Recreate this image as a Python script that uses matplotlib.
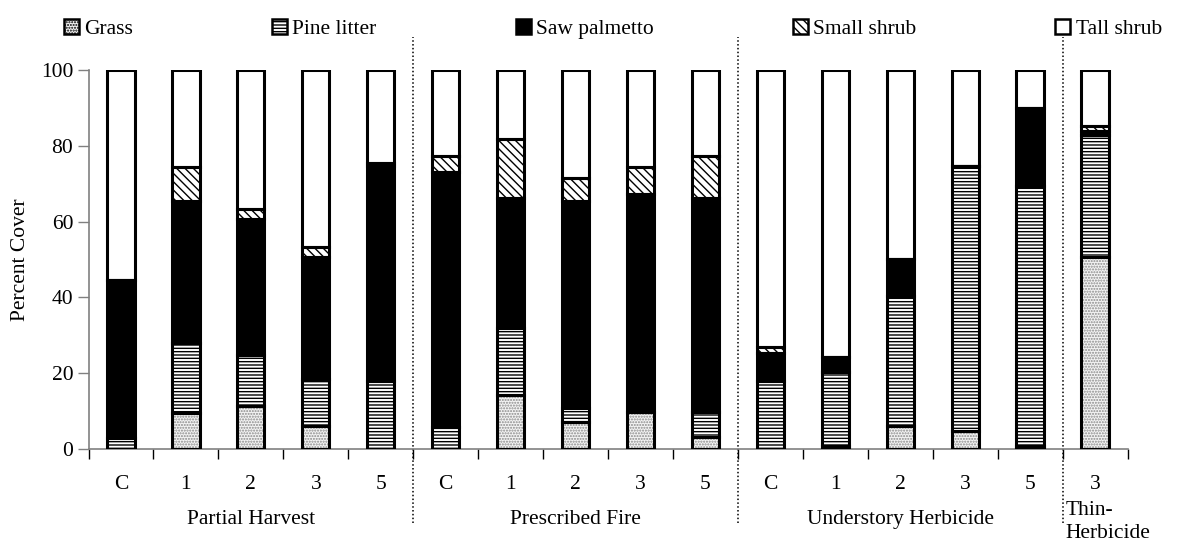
import matplotlib
matplotlib.use('Agg')
import matplotlib.pyplot as plt
from matplotlib.patches import Patch
import numpy as np

plt.rcParams['font.family'] = ['Liberation Serif', 'DejaVu Serif']
plt.rcParams['hatch.linewidth'] = 1.0

# ---- data (percent cover) ----
treat_labels = ['C', '1', '2', '3', '5',
                'C', '1', '2', '3', '5',
                'C', '1', '2', '3', '5',
                '3']
groups = ['Partial Harvest', 'Prescribed Fire', 'Understory Herbicide', 'Thin-\nHerbicide']
group_sizes = [5, 5, 5, 1]

grass = [0, 9.4, 11.3, 6.0, 0, 0, 14.3, 7.0, 9.7, 3.1, 0, 0.8, 6.2, 4.7, 0.8, 50.7]
pine_litter = [3.0, 18.5, 13.6, 12.5, 17.9, 5.7, 17.6, 3.7, 0, 6.6, 17.9, 19.5, 34.1, 69.9, 68.5, 32.1]
saw_palmetto = [41.7, 37.6, 35.9, 32.2, 56.7, 67.4, 34.4, 54.7, 57.7, 56.6, 7.4, 4.1, 9.9, 0, 20.6, 1.2]
small_shrub = [0, 8.9, 2.5, 2.6, 0.9, 4.3, 15.4, 6.0, 7.0, 11.0, 1.7, 0, 0, 0, 0, 1.2]
tall_shrub = [55.3, 25.6, 36.7, 46.7, 24.5, 22.6, 18.3, 28.6, 25.6, 22.7, 73.0, 75.6, 49.8, 25.4, 10.1, 14.8]

series = [
    ('Grass', grass, dict(facecolor='#f4f4f4', hatch='......', hcol='#8a8a8a')),
    ('Pine litter', pine_litter, dict(facecolor='white', hatch='-----', hcol='black')),
    ('Saw palmetto', saw_palmetto, dict(facecolor='black', hatch=None, hcol='black')),
    ('Small shrub', small_shrub, dict(facecolor='white', hatch='\\\\\\\\', hcol='black')),
    ('Tall shrub', tall_shrub, dict(facecolor='white', hatch=None, hcol='white')),
]

FS = 15.5

fig = plt.figure(figsize=(11.9, 5.46), dpi=100)
fig.patch.set_facecolor('white')
ax = fig.add_axes([88.5 / 1190, 1 - 449 / 546, 1039 / 1190, 379 / 546])

x = np.arange(len(treat_labels))
width = 0.42
bottom = np.zeros(len(x))
handles = []
for name, vals, st in series:
    vals = np.array(vals, dtype=float)
    ax.bar(x, vals, width, bottom=bottom, color=st['facecolor'],
           edgecolor=st['hcol'], hatch=st['hatch'], linewidth=0, zorder=2)
    ax.bar(x, vals, width, bottom=bottom, fill=False,
           edgecolor='black', linewidth=2.2, zorder=3)
    handles.append(Patch(facecolor=st['facecolor'], edgecolor='black',
                         hatch=st['hatch'], linewidth=1.8, label=name))
    bottom += vals

ax.set_xlim(-0.5, len(x) - 0.5)
ax.set_ylim(0, 100)
ax.set_yticks([0, 20, 40, 60, 80, 100])
ax.tick_params(axis='y', direction='out', length=8, width=1, color='#808080',
               labelsize=FS, pad=3)
ax.set_ylabel('Percent Cover', fontsize=FS, labelpad=8)

ax.set_xticks(x)
ax.set_xticklabels(treat_labels, fontsize=FS)
ax.tick_params(axis='x', which='major', length=0, pad=19)
ax.set_xticks(np.arange(-0.5, len(x)), minor=True)
ax.tick_params(axis='x', which='minor', direction='out', length=7, width=1,
               color='black')

for s in ['top', 'right']:
    ax.spines[s].set_visible(False)
ax.spines['left'].set_color('#808080')
ax.spines['bottom'].set_color('#808080')
ax.spines['left'].set_linewidth(1.2)
ax.spines['bottom'].set_linewidth(1.2)

# group separators and labels
edges = np.cumsum(group_sizes)
for e in edges[:-1]:
    ax.plot([e - 0.5, e - 0.5], [-19.5, 108.7], ls=(0, (1, 1.5)), color='black',
            lw=1.1, clip_on=False, zorder=1)
start = 0
for g, n in zip(groups, group_sizes):
    if n > 1:
        ax.text(start + (n - 1) / 2, -18.7, g, ha='center', va='center', fontsize=FS)
    else:
        ax.text(start - 0.45, -13.6, g, ha='left', va='top', fontsize=FS,
                linespacing=1.35)
    start += n

ax.legend(handles=handles, loc='lower left', bbox_to_anchor=(-0.032, 1.06),
          ncol=5, frameon=False, fontsize=FS, handlelength=0.7,
          handleheight=0.7, handletextpad=0.25, columnspacing=6.45,
          borderaxespad=0)

fig.savefig('out.png', dpi=100, facecolor='white')
